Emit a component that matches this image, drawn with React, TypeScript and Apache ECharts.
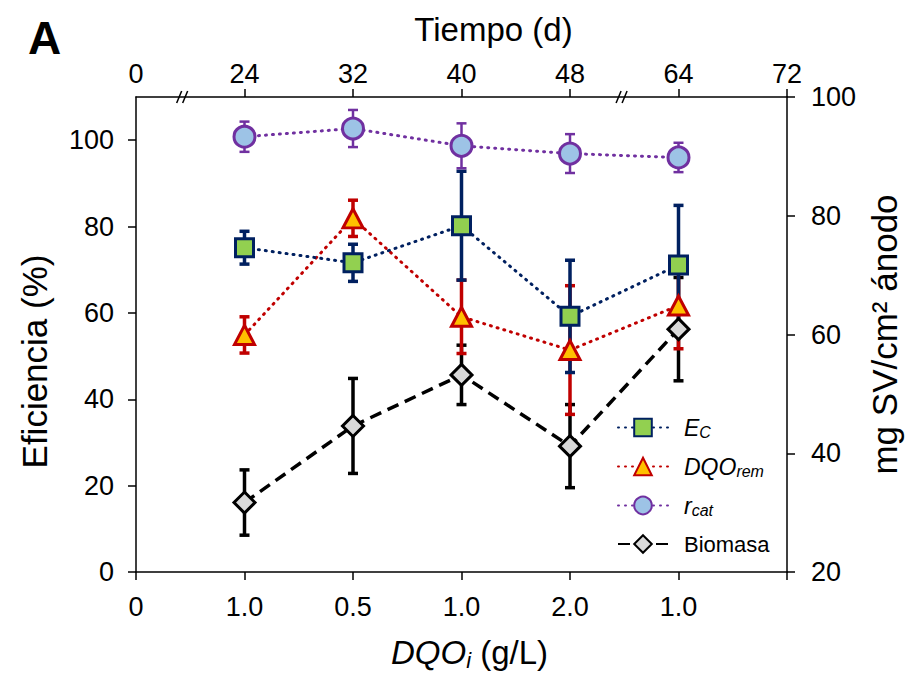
import { useEffect, useRef } from 'react';
import * as echarts from 'echarts';

const FONT = '"Liberation Sans", Arial, sans-serif';

// x positions of the five experiments (category slots on the value axes)
const xPos = [1, 2, 3, 4, 5];
const bottomLabels = ['0', '1.0', '0.5', '1.0', '2.0', '1.0', ''];
const topLabels = ['0', '24', '32', '40', '48', '64', '72'];
const leftTicks = [0, 20, 40, 60, 80, 100];
const rightTicks = [20, 40, 60, 80, 100];
const topTicks = [1, 2, 3, 4, 5, 6];
const axisBreaks = [0.43, 4.48];

const legendNames = ['E_C', 'DQO_rem', 'r_cat', 'Biomasa'];

const ecValues = [75.1, 71.6, 80.2, 59.2, 71.1];
const ecErr = [3.8, 4.3, 12.6, 13.0, 13.8];
const dqoValues = [54.9, 81.9, 59.1, 51.4, 61.7];
const dqoErr = [4.2, 4.2, 8.5, 14.9, 10.0];
const rcatValues = [100.8, 102.7, 98.7, 96.9, 96.0];
const rcatErr = [3.5, 4.3, 5.2, 4.5, 3.4];
const bioValues = [31.7, 44.6, 53.2, 41.2, 60.9];
const bioErr = [5.5, 8.0, 5.0, 7.0, 8.7];

const NAVY = '#002060';
const RED = '#C00000';
const PURPLE = '#7030A0';
const BLACK = '#000000';

function errRender(color: string, width: number) {
  return (_params: any, api: any) => {
    const x = api.value(0);
    const y = api.value(1);
    const e = api.value(2);
    const top = api.coord([x, y + e]);
    const bot = api.coord([x, y - e]);
    const hw = 5;
    const style = { stroke: color, lineWidth: width };
    return {
      type: 'group',
      children: [
        { type: 'line', shape: { x1: top[0], y1: top[1], x2: bot[0], y2: bot[1] }, style },
        { type: 'line', shape: { x1: top[0] - hw, y1: top[1], x2: top[0] + hw, y2: top[1] }, style },
        { type: 'line', shape: { x1: bot[0] - hw, y1: bot[1], x2: bot[0] + hw, y2: bot[1] }, style },
      ],
    };
  };
}

const legendText: Record<string, string> = {
  E_C: '{it|E}{sub|C}',
  DQO_rem: '{it|DQO}{sub|rem}',
  r_cat: '{it|r}{sub|cat}',
  Biomasa: '{n|Biomasa}',
};

export default function App() {
  const ref = useRef<HTMLDivElement>(null);
  useEffect(() => {
    if (!ref.current) return;
    const chart = echarts.init(ref.current, undefined, { renderer: 'svg' });
    const axisLine = { show: true, onZero: false, lineStyle: { color: BLACK, width: 1.5 } };
    const tickStyle = { lineStyle: { color: BLACK, width: 1.5 }, length: 8 };
    const labelStyle = { color: BLACK, fontSize: 27, fontFamily: FONT };
    const dotted = (c: string) => ({ color: c, width: 3, type: [1, 6], cap: 'round' });

    const option: any = {
      animation: false,
      backgroundColor: '#ffffff',
      title: {
        text: 'A',
        left: 23,
        top: 10,
        textStyle: { fontSize: 46, fontWeight: 'bold', color: BLACK, fontFamily: FONT },
      },
      grid: { left: 136, right: 125, top: 97, bottom: 105 },
      legend: {
        orient: 'vertical',
        left: 612,
        top: 411,
        itemWidth: 50,
        itemHeight: 22,
        itemGap: 14.5,
        data: legendNames,
        formatter: (name: string) => legendText[name],
        textStyle: {
          color: BLACK,
          fontFamily: FONT,
          fontSize: 22,
          padding: [0, 0, 0, 11],
          rich: {
            it: { fontStyle: 'italic', fontSize: 23, lineHeight: 26, fontFamily: FONT, color: BLACK },
            sub: { fontStyle: 'italic', fontSize: 16, lineHeight: 12, verticalAlign: 'bottom', fontFamily: FONT, color: BLACK },
            n: { fontSize: 22, lineHeight: 26, fontFamily: FONT, color: BLACK },
          },
        },
      },
      xAxis: [
        {
          type: 'value',
          position: 'bottom',
          min: 0,
          max: 6,
          interval: 1,
          axisLine,
          axisTick: { show: true, ...tickStyle },
          splitLine: { show: false },
          axisLabel: { ...labelStyle, margin: 21, formatter: (v: number) => bottomLabels[Math.round(v)] },
          name: '{it|DQO}{sub|i}{n| (g/L)}',
          nameLocation: 'middle',
          nameGap: 61,
          nameTextStyle: {
            padding: [0, 0, 0, 16],
            rich: {
              it: { fontStyle: 'italic', fontSize: 33, lineHeight: 38, fontFamily: FONT, color: BLACK },
              sub: { fontStyle: 'italic', fontSize: 22, lineHeight: 18, verticalAlign: 'bottom', fontFamily: FONT, color: BLACK },
              n: { fontSize: 33, lineHeight: 38, fontFamily: FONT, color: BLACK },
            },
          },
        },
        {
          type: 'value',
          position: 'top',
          min: 0,
          max: 6,
          interval: 1,
          axisLine,
          axisTick: { show: true, ...tickStyle, customValues: topTicks },
          splitLine: { show: false },
          axisLabel: { ...labelStyle, margin: 10, formatter: (v: number) => topLabels[Math.round(v)] },
          name: 'Tiempo (d)',
          nameLocation: 'middle',
          nameGap: 51,
          nameTextStyle: { fontSize: 33, fontFamily: FONT, color: BLACK, padding: [0, 0, 0, 64] },
        },
      ],
      yAxis: [
        {
          type: 'value',
          position: 'left',
          min: 0,
          max: 110,
          interval: 20,
          axisLine,
          axisTick: { show: true, ...tickStyle, customValues: leftTicks },
          splitLine: { show: false },
          axisLabel: { ...labelStyle, margin: 22, customValues: leftTicks },
          name: 'Eficiencia (%)',
          nameLocation: 'middle',
          nameRotate: 90,
          nameGap: 84,
          nameTextStyle: { fontSize: 35, fontFamily: FONT, color: BLACK, padding: [0, 54, 0, 0] },
        },
        {
          type: 'value',
          position: 'right',
          min: 20,
          max: 100,
          interval: 20,
          axisLine,
          axisTick: { show: true, ...tickStyle, customValues: rightTicks },
          splitLine: { show: false },
          axisLabel: { ...labelStyle, margin: 24, customValues: rightTicks },
          name: 'mg SV/cm² ánodo',
          nameLocation: 'middle',
          nameRotate: 90,
          nameGap: 76,
          nameTextStyle: { fontSize: 35, fontFamily: FONT, color: BLACK },
        },
      ],
      series: [
        {
          type: 'custom',
          name: 'breaks',
          xAxisIndex: 1,
          yAxisIndex: 0,
          silent: true,
          clip: false,
          z: 5,
          data: axisBreaks.map((b) => [b, 110]),
          encode: { x: 0, y: 1 },
          renderItem: (_p: any, api: any) => {
            const c = api.coord([api.value(0), api.value(1)]);
            const style = { stroke: BLACK, lineWidth: 1.5 };
            return {
              type: 'group',
              children: [
                { type: 'line', shape: { x1: c[0] - 6, y1: c[1] + 6, x2: c[0] - 1, y2: c[1] - 6 }, style },
                { type: 'line', shape: { x1: c[0] + 0, y1: c[1] + 6, x2: c[0] + 5, y2: c[1] - 6 }, style },
              ],
            };
          },
        },
        {
          type: 'custom', name: 'Biomasa err', xAxisIndex: 0, yAxisIndex: 1, silent: true, z: 1,
          data: xPos.map((x, i) => [x, bioValues[i], bioErr[i]]), encode: { x: 0, y: 1 },
          renderItem: errRender(BLACK, 3.5),
        },
        {
          type: 'custom', name: 'DQO err', xAxisIndex: 0, yAxisIndex: 0, silent: true, z: 1,
          data: xPos.map((x, i) => [x, dqoValues[i], dqoErr[i]]), encode: { x: 0, y: 1 },
          renderItem: errRender(RED, 3.5),
        },
        {
          type: 'custom', name: 'EC err', xAxisIndex: 0, yAxisIndex: 0, silent: true, z: 1,
          data: xPos.map((x, i) => [x, ecValues[i], ecErr[i]]), encode: { x: 0, y: 1 },
          renderItem: errRender(NAVY, 3.5),
        },
        {
          type: 'custom', name: 'rcat err', xAxisIndex: 0, yAxisIndex: 0, silent: true, z: 1,
          data: xPos.map((x, i) => [x, rcatValues[i], rcatErr[i]]), encode: { x: 0, y: 1 },
          renderItem: errRender(PURPLE, 2.5),
        },
        {
          name: 'Biomasa',
          type: 'line',
          xAxisIndex: 0,
          yAxisIndex: 1,
          z: 2,
          data: xPos.map((x, i) => [x, bioValues[i]]),
          symbol: 'diamond',
          symbolSize: 21,
          itemStyle: { color: '#D9D9D9', borderColor: BLACK, borderWidth: 3 },
          lineStyle: { color: BLACK, width: 3.5, type: [12, 7] },
        },
        {
          name: 'DQO_rem',
          type: 'line',
          xAxisIndex: 0,
          yAxisIndex: 0,
          z: 3,
          data: xPos.map((x, i) => [x, dqoValues[i]]),
          symbol: 'triangle',
          symbolSize: [20, 19],
          itemStyle: { color: '#FFC000', borderColor: RED, borderWidth: 3 },
          lineStyle: dotted(RED),
        },
        {
          name: 'E_C',
          type: 'line',
          xAxisIndex: 0,
          yAxisIndex: 0,
          z: 4,
          data: xPos.map((x, i) => [x, ecValues[i]]),
          symbol: 'rect',
          symbolSize: 18,
          itemStyle: { color: '#92D050', borderColor: NAVY, borderWidth: 3 },
          lineStyle: dotted(NAVY),
        },
        {
          name: 'r_cat',
          type: 'line',
          xAxisIndex: 0,
          yAxisIndex: 0,
          z: 4,
          data: xPos.map((x, i) => [x, rcatValues[i]]),
          symbol: 'circle',
          symbolSize: 21,
          itemStyle: { color: '#9DC3E6', borderColor: PURPLE, borderWidth: 3 },
          lineStyle: dotted(PURPLE),
        },
      ],
    };
    chart.setOption(option);
    return () => chart.dispose();
  }, []);
  return <div ref={ref} style={{ width: 912, height: 677, position: 'absolute', left: 0, top: 0 }} />;
}
